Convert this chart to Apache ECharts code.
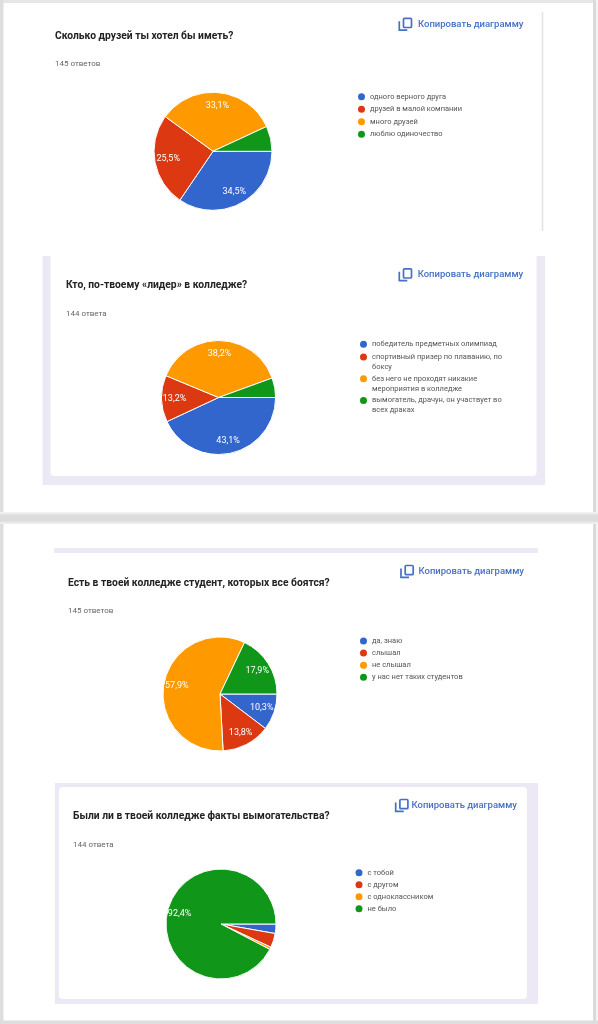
<!DOCTYPE html>
<html>
<head>
<meta charset="utf-8">
<script src="https://cdn.jsdelivr.net/npm/echarts@6/dist/echarts.min.js"></script>
<style>
html,body{margin:0;padding:0;background:#fff;}
#c{width:598px;height:1024px;}
</style>
</head>
<body>
<div id="c"></div>
<script>
// ---------- data ----------
const questions = [
  'Сколько друзей ты хотел бы иметь?',
  'Кто, по-твоему «лидер» в колледже?',
  'Есть в твоей колледже студент, которых все боятся?',
  'Были ли в твоей колледже факты вымогательства?'
];
const answerCounts = ['145 ответов', '144 ответа', '145 ответов', '144 ответа'];
const copyLabel = 'Копировать диаграмму';

const cats1 = ['одного верного друга', 'друзей в малой компании', 'много друзей', 'люблю одиночество'];
const vals1 = [50, 37, 48, 10];

const cats2 = ['победитель предметных олимпиад', 'спортивный призер по плаванию, по боксу', 'без него не проходят никакие мероприятия в колледже', 'вымогатель, драчун, он участвует во всех драках'];
const vals2 = [62, 19, 55, 8];

const cats3 = ['да, знаю', 'слышал', 'не слышал', 'у нас нет таких студентов'];
const vals3 = [15, 20, 84, 26];

const cats4 = ['с тобой', 'с другом', 'с одноклассником', 'не было'];
const vals4 = [4, 6, 1, 133];

const colors = ['#3366cc', '#dc3912', '#ff9900', '#109618'];

// ---------- layout ----------
const FONT = 'Roboto, "Noto Sans", sans-serif';
const LEG_SIZE = 7.5;
const charts = [
  {cats: cats1, vals: vals1, cx: 213, cy: 151.3, r: 59, tx: 55, ty: 29, lx: 358, ly: 91.7, lgap: 2.5, ix: 398.3, iy: 24.5, ctx: 418},
  {cats: cats2, vals: vals2, cx: 218.6, cy: 397.5, r: 57, tx: 66, ty: 278.7, lx: 360, ly: 339.3, lgap: 1.8, ix: 398.3, iy: 275, ctx: 417.7},
  {cats: cats3, vals: vals3, cx: 220, cy: 694, r: 57, tx: 68, ty: 576, lx: 360, ly: 636, lgap: 2.1, ix: 400, iy: 571.7, ctx: 418.5},
  {cats: cats4, vals: vals4, cx: 221, cy: 924, r: 55, tx: 73, ty: 809.7, lx: 355.5, ly: 867.7, lgap: 2, ix: 394.7, iy: 805.7, ctx: 411.5}
];

const measureCtx = document.createElement('canvas').getContext('2d');
function wrapText(text, font, maxW) {
  measureCtx.font = font;
  const words = text.split(' ');
  const lines = [];
  let cur = '';
  words.forEach(w => {
    const t = cur ? cur + ' ' + w : w;
    if (cur && measureCtx.measureText(t).width > maxW) { lines.push(cur); cur = w; }
    else cur = t;
  });
  if (cur) lines.push(cur);
  return lines.join('\n');
}

function pieSeries(c) {
  const total = c.vals.reduce((a, b) => a + b, 0);
  const main = c.cats.map((n, i) => ({name: n, value: c.vals[i], itemStyle: {color: colors[i]}}));
  const over = c.cats.map((n, i) => ({name: n, value: c.vals[i]}));
  return [{
    type: 'pie', center: [c.cx, c.cy], radius: [0, c.r], startAngle: 0, clockwise: true,
    data: main, label: {show: false}, labelLine: {show: false},
    itemStyle: {borderColor: '#ffffff', borderWidth: 1},
    emphasis: {disabled: true}, silent: true, z: 2
  }, {
    type: 'pie', center: [c.cx, c.cy], radius: [c.r * 0.44, c.r], startAngle: 0, clockwise: true,
    data: over,
    itemStyle: {color: 'rgba(0,0,0,0)', borderWidth: 0},
    label: {
      show: true, position: 'inside', color: '#ffffff', fontSize: 9, fontFamily: FONT,
      formatter: p => {
        const pc = p.value / total * 100;
        return pc < 8 ? '' : pc.toFixed(1).replace('.', ',') + '%';
      }
    },
    labelLine: {show: false}, emphasis: {disabled: true}, silent: true, z: 3, legendHoverLink: false
  }];
}

const legendText = {fontSize: LEG_SIZE, color: '#555', lineHeight: 10, fontFamily: FONT};
function legendBase(c, names, extra) {
  return Object.assign({
    orient: 'vertical', left: c.lx, top: c.ly, padding: 0, itemGap: c.lgap,
    icon: 'circle', itemWidth: 7, itemHeight: 7, selectedMode: false,
    itemStyle: {borderWidth: 0},
    textStyle: Object.assign({}, legendText),
    data: names
  }, extra || {});
}

const legends = [
  legendBase(charts[0], cats1),
  legendBase(charts[1], cats2.slice(0, 1)),
  legendBase(charts[1], cats2.slice(1), {
    top: 352,
    itemHeight: 20,
    icon: 'path://M0,5A3.5,3.5,0,1,1,7,5A3.5,3.5,0,1,1,0,5ZM3.5,0L3.5,0.01M3.5,20L3.5,19.99',
    formatter: name => wrapText(name, LEG_SIZE + 'px Roboto', 140)
  }),
  legendBase(charts[2], cats3),
  legendBase(charts[3], cats4)
];

const titles = charts.map((c, i) => ({
  text: questions[i], subtext: answerCounts[i], left: c.tx, top: c.ty, padding: 0, itemGap: 16,
  textStyle: {fontSize: 10.3, fontWeight: 'bold', color: '#222', lineHeight: 14, fontFamily: FONT},
  subtextStyle: {fontSize: 8, color: '#666', lineHeight: 10, fontFamily: FONT}
}));

const LAV = '#ece9f5';
const BLUE = '#4670c6';
function copyIcon(c) {
  const x = c.ix, cy = c.iy;
  return [
    {type: 'rect', shape: {x: x + 5.2, y: cy - 6.2, width: 8, height: 9.2, r: 1}, style: {fill: 'none', stroke: BLUE, lineWidth: 1.7}, z: 5},
    {type: 'polyline', shape: {points: [[x + 1, cy - 3.2], [x + 1, cy + 5.6], [x + 9, cy + 5.6]]}, style: {fill: 'none', stroke: BLUE, lineWidth: 1.7}, z: 5},
    {type: 'text', x: c.ctx, y: cy, style: {text: copyLabel, fill: BLUE, font: '500 9.5px ' + FONT, verticalAlign: 'middle'}, z: 5}
  ];
}

const graphics = [
  {type: 'rect', shape: {x: 0, y: 0, width: 598, height: 1024}, style: {fill: '#ffffff'}, z: -10},
  {type: 'rect', shape: {x: 0, y: 0, width: 598, height: 3}, style: {fill: '#e6e6e6'}, z: -9},
  {type: 'rect', shape: {x: 0, y: 0, width: 3.5, height: 1024}, style: {fill: '#dedede'}, z: -9},
  {type: 'rect', shape: {x: 593, y: 0, width: 3, height: 1024}, style: {fill: '#dadada'}, z: -9},
  {type: 'rect', shape: {x: 596, y: 0, width: 2, height: 1024}, style: {fill: '#f3f3f3'}, z: -9},
  {type: 'rect', shape: {x: 0, y: 512, width: 598, height: 12}, style: {fill: new echarts.graphic.LinearGradient(0, 0, 0, 1, [
    {offset: 0, color: '#f4f4f4'}, {offset: 0.3, color: '#dcdcdc'}, {offset: 0.7, color: '#dcdcdc'}, {offset: 1, color: '#f2f2f2'}])}, z: -9},
  {type: 'rect', shape: {x: 0, y: 1020.5, width: 598, height: 3.5}, style: {fill: '#dedede'}, z: -9},
  // card 1 right edge
  {type: 'line', shape: {x1: 542.5, y1: 12, x2: 542.5, y2: 231}, style: {stroke: '#e2e2e2', lineWidth: 1.5}, z: -8},
  // card 2 frame
  {type: 'rect', shape: {x: 42.5, y: 256, width: 502.5, height: 229}, style: {fill: LAV}, z: -8},
  {type: 'rect', shape: {x: 50.5, y: 250, width: 486, height: 226, r: [0, 0, 4, 4]}, style: {fill: '#ffffff'}, z: -7},
  // card 3 top strip
  {type: 'rect', shape: {x: 54, y: 548, width: 484, height: 5}, style: {fill: LAV}, z: -8},
  // card 4 frame
  {type: 'rect', shape: {x: 55, y: 783, width: 483, height: 221}, style: {fill: LAV}, z: -8},
  {type: 'rect', shape: {x: 59, y: 787, width: 468, height: 212, r: 4}, style: {fill: '#ffffff'}, z: -7}
];
charts.forEach(c => copyIcon(c).forEach(g => graphics.push(g)));

let series = [];
charts.forEach(c => { series = series.concat(pieSeries(c)); });

const chart = echarts.init(document.getElementById('c'), null, {renderer: 'canvas'});
chart.setOption({
  animation: false,
  backgroundColor: '#ffffff',
  textStyle: {fontFamily: FONT},
  title: titles,
  legend: legends,
  graphic: {elements: graphics},
  series: series
});
</script>
</body>
</html>
